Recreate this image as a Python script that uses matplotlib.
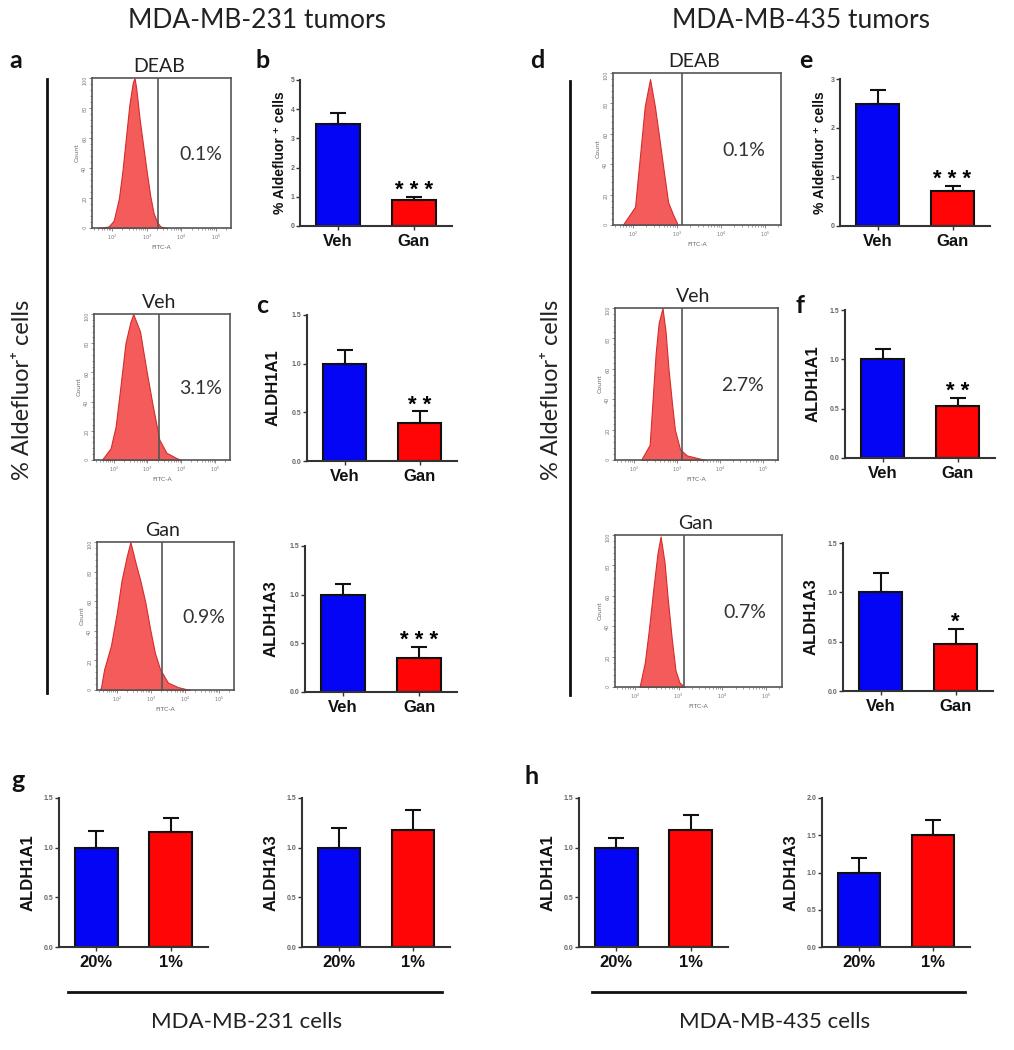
import numpy as np
import matplotlib
matplotlib.use("Agg")
import matplotlib.pyplot as plt
from matplotlib.ticker import FixedLocator, MultipleLocator

W, H = 1014, 1050

# flow histograms, x = log10(FITC-A), y = fraction of the peak count
deab231_x = [1.6, 1.9, 2.05, 2.2, 2.3, 2.4, 2.5, 2.6, 2.65, 2.7, 2.8, 2.9, 3.0, 3.1, 3.2, 3.3, 3.4, 3.6]
deab231_y = [0.0, 0.01, 0.05, 0.2, 0.38, 0.6, 0.82, 0.97, 1.0, 0.93, 0.72, 0.55, 0.38, 0.22, 0.1, 0.04, 0.01, 0.0]
veh231_x = [1.65, 1.91, 2.06, 2.2, 2.35, 2.49, 2.58, 2.78, 2.98, 3.15, 3.35, 3.56, 3.84, 4.0]
veh231_y = [0.0, 0.08, 0.23, 0.5, 0.8, 0.94, 1.0, 0.88, 0.6, 0.38, 0.14, 0.05, 0.015, 0.0]
gan231_x = [1.5, 1.54, 1.63, 1.83, 2.0, 2.14, 2.29, 2.4, 2.55, 2.69, 2.84, 2.98, 3.12, 3.27, 3.5, 3.79, 4.14]
gan231_y = [0.0, 0.02, 0.14, 0.3, 0.52, 0.74, 0.9, 1.0, 0.86, 0.74, 0.59, 0.41, 0.25, 0.14, 0.05, 0.02, 0.0]
deab435_x = [1.77, 2.05, 2.16, 2.27, 2.39, 2.5, 2.61, 2.68, 2.8, 2.91, 3.02]
deab435_y = [0.0, 0.12, 0.45, 0.78, 0.96, 0.78, 0.55, 0.4, 0.15, 0.07, 0.0]
veh435_x = [2.16, 2.36, 2.43, 2.5, 2.57, 2.66, 2.73, 2.8, 2.89, 2.95, 3.07, 3.23, 3.52, 3.68]
veh435_y = [0.0, 0.1, 0.4, 0.7, 0.9, 1.0, 0.85, 0.6, 0.35, 0.2, 0.07, 0.03, 0.01, 0.0]
gan435_x = [2.11, 2.23, 2.32, 2.43, 2.52, 2.59, 2.68, 2.75, 2.84, 2.93, 3.02, 3.14]
gan435_y = [0.0, 0.16, 0.37, 0.66, 0.88, 0.99, 0.82, 0.59, 0.33, 0.11, 0.03, 0.0]

flow_titles = ["DEAB", "Veh", "Gan"]
pct231 = ["0.1%", "3.1%", "0.9%"]
pct435 = ["0.1%", "2.7%", "0.7%"]

# bar data (mean, upper SEM)
tumor_groups = ["Veh", "Gan"]
cell_groups = ["20%", "1%"]
b_mean, b_err = [3.5, 0.9], [0.38, 0.1]
c1_mean, c1_err = [1.0, 0.39], [0.14, 0.12]
c2_mean, c2_err = [1.0, 0.35], [0.11, 0.11]
e_mean, e_err = [2.5, 0.72], [0.27, 0.1]
f1_mean, f1_err = [1.0, 0.53], [0.1, 0.08]
f2_mean, f2_err = [1.0, 0.48], [0.2, 0.15]
g1_mean, g1_err = [1.0, 1.16], [0.17, 0.14]
g2_mean, g2_err = [1.0, 1.18], [0.2, 0.2]
h1_mean, h1_err = [1.0, 1.18], [0.1, 0.15]
h2_mean, h2_err = [1.0, 1.51], [0.2, 0.2]

BLUE = "#0505f5"
RED = "#ff0505"
FILL = "#f45c5c"
EDGE = "#d42c2c"
CAL = "Lato"
ARIAL = ["Liberation Sans", "DejaVu Sans"]

fig = plt.figure(figsize=(W / 100, H / 100), dpi=100)


def px_axes(l, t, r, b):
    return fig.add_axes([l / W, 1 - b / H, (r - l) / W, (b - t) / H])


def ftext(x, y, s, **kw):
    fig.text(x / W, 1 - y / H, s, **kw)


def flow(box, x, y, xlim, gate, title, pct):
    ax = px_axes(*box)
    ax.fill_between(x, y, color=FILL, edgecolor=EDGE, lw=0.8)
    ax.set_xlim(xlim)
    ax.set_ylim(0, 1.0)
    ax.axvline(gate, color="#555555", lw=1.2)
    for s in ax.spines.values():
        s.set_color("#555555")
        s.set_linewidth(1.2)
    ax.xaxis.set_major_locator(FixedLocator([2, 3, 4, 5]))
    ax.set_xticklabels(["$10^2$", "$10^3$", "$10^4$", "$10^5$"])
    minors = [np.log10(k * 10.0 ** n) for n in range(1, 6) for k in range(2, 10)]
    ax.xaxis.set_minor_locator(FixedLocator(minors))
    ax.yaxis.set_major_locator(MultipleLocator(0.2))
    ax.yaxis.set_minor_locator(MultipleLocator(0.04))
    ax.set_yticklabels(["0", "0", "20", "40", "60", "80", "100"][: len(ax.get_yticks())])
    ax.tick_params(length=2.5, width=0.6, labelsize=3.5, colors="#777777", pad=1)
    ax.tick_params(axis="y", labelrotation=90)
    ax.tick_params(which="minor", length=1.5, width=0.5, colors="#777777")
    ax.set_xlabel("FITC-A", fontsize=4.5, color="#666666", labelpad=2)
    ax.set_ylabel("Count", fontsize=4.5, color="#666666", labelpad=2)
    ax.text(0.48, 1.02, title, transform=ax.transAxes, ha="center", va="bottom",
            fontsize=14, family=CAL, color="#222222")
    ax.text(0.78, 0.49, pct, transform=ax.transAxes, ha="center", va="center",
            fontsize=14, family=CAL, color="#333333")
    return ax


def bars(box, labels, means, errs, ymax, step, fmt, ylabel, lab_dx, lab_size, stars=None):
    ax = px_axes(*box)
    x = np.arange(len(means))
    ax.bar(x, means, width=0.58, color=[BLUE, RED], edgecolor="#111111", lw=1.5, zorder=2)
    ax.errorbar(x, means, yerr=[np.zeros(len(errs)), errs], fmt="none", ecolor="#111111",
                elinewidth=1.5, capsize=6, capthick=1.5, zorder=3)
    ax.set_xlim(-0.5, 1.5)
    ax.set_ylim(0, ymax)
    ax.spines[["top", "right"]].set_visible(False)
    for s in ("left", "bottom"):
        ax.spines[s].set_linewidth(1.5)
        ax.spines[s].set_color("#333333")
    ax.set_xticks(x)
    ax.set_xticklabels(labels, fontsize=12, fontweight="bold", family=ARIAL)
    ticks = np.arange(0, ymax + step / 2, step)
    ax.set_yticks(ticks)
    ax.set_yticklabels([fmt.format(t) for t in ticks], fontsize=5, fontweight="bold",
                       color="#666666", family=ARIAL)
    ax.tick_params(axis="y", length=3, width=1, pad=1, colors="#333333", labelcolor="#666666")
    ax.tick_params(axis="x", length=3, width=1, pad=3, colors="#333333", labelcolor="#111111")
    ax.set_ylabel(ylabel, fontsize=lab_size, fontweight="bold", family=ARIAL,
                  va="center", color="#111111")
    ax.yaxis.set_label_coords(-lab_dx / (box[2] - box[0]), 0.5)
    if stars:
        ax.annotate(" ".join(stars), (1, means[1] + errs[1]), xytext=(0, -3),
                    textcoords="offset points", ha="center", va="bottom",
                    fontsize=16, fontweight="bold", family=ARIAL)
    return ax


# headings
ftext(257, 20, "MDA-MB-231 tumors", ha="center", va="center", fontsize=19, family=CAL, color="#222222")
ftext(801, 20, "MDA-MB-435 tumors", ha="center", va="center", fontsize=19, family=CAL, color="#222222")

letters = [("a", 16, 61), ("b", 263, 61), ("c", 262, 305), ("d", 537, 61),
           ("e", 806, 61), ("f", 800, 305), ("g", 18, 780), ("h", 532, 777)]
for s, x, y in letters:
    ftext(x, y, s, ha="center", va="center", fontsize=18, fontweight="bold", family=CAL, color="#111111")

# left brackets of the flow columns
for lx, ly0, ly1, tx in [(47, 79, 693, 23), (570, 81, 695, 552)]:
    fig.add_artist(plt.Line2D([lx / W, lx / W], [1 - ly0 / H, 1 - ly1 / H], color="#111111", lw=2))
    ftext(tx, 390, "% Aldefluor⁺ cells", rotation=90, ha="center", va="center",
          fontsize=17, family=[CAL, "DejaVu Sans"], color="#222222")

# flow panels
lx231, gate231 = (1.42, 5.44), 3.33
lx435, gate435 = (1.55, 5.36), 3.12
boxes231 = [(92, 78, 231, 228), (94, 314, 230, 460), (97, 542, 234, 690)]
boxes435 = [(613, 73, 781, 225), (615, 308, 778, 460), (615, 535, 782, 687)]
data231 = [(deab231_x, deab231_y), (veh231_x, veh231_y), (gan231_x, gan231_y)]
data435 = [(deab435_x, deab435_y), (veh435_x, veh435_y), (gan435_x, gan435_y)]
for i in range(3):
    flow(boxes231[i], *data231[i], lx231, gate231, flow_titles[i], pct231[i])
    flow(boxes435[i], *data435[i], lx435, gate435, flow_titles[i], pct435[i])

# bar panels
ald = "% Aldefluor ⁺ cells"
bars((300, 80, 452, 226), tumor_groups, b_mean, b_err, 5, 1, "{:.0f}", ald, 20, 10, "***")
bars((307, 315, 457, 461), tumor_groups, c1_mean, c1_err, 1.5, 0.5, "{:.1f}", "ALDH1A1", 34, 12, "**")
bars((305, 546, 457, 692), tumor_groups, c2_mean, c2_err, 1.5, 0.5, "{:.1f}", "ALDH1A3", 34, 12, "***")
bars((840, 79, 990, 226), tumor_groups, e_mean, e_err, 3, 1, "{:.0f}", ald, 20, 10, "***")
bars((845, 310, 995, 458), tumor_groups, f1_mean, f1_err, 1.5, 0.5, "{:.1f}", "ALDH1A1", 32, 12, "**")
bars((843, 543, 993, 691), tumor_groups, f2_mean, f2_err, 1.5, 0.5, "{:.1f}", "ALDH1A3", 32, 12, "*")
bars((59, 798, 208, 947), cell_groups, g1_mean, g1_err, 1.5, 0.5, "{:.1f}", "ALDH1A1", 31, 12)
bars((302, 798, 450, 947), cell_groups, g2_mean, g2_err, 1.5, 0.5, "{:.1f}", "ALDH1A3", 31, 12)
bars((579, 798, 728, 947), cell_groups, h1_mean, h1_err, 1.5, 0.5, "{:.1f}", "ALDH1A1", 31, 12)
bars((822, 798, 970, 947), cell_groups, h2_mean, h2_err, 2.0, 0.5, "{:.1f}", "ALDH1A3", 31, 12)

# bottom group lines
for x0, x1, tx, s in [(68, 442, 247, "MDA-MB-231 cells"), (592, 965, 775, "MDA-MB-435 cells")]:
    fig.add_artist(plt.Line2D([x0 / W, x1 / W], [1 - 992 / H] * 2, color="#111111", lw=2))
    ftext(tx, 1022, s, ha="center", va="center", fontsize=16, family=CAL, color="#222222")

fig.savefig("out.png", dpi=100, facecolor="white")
